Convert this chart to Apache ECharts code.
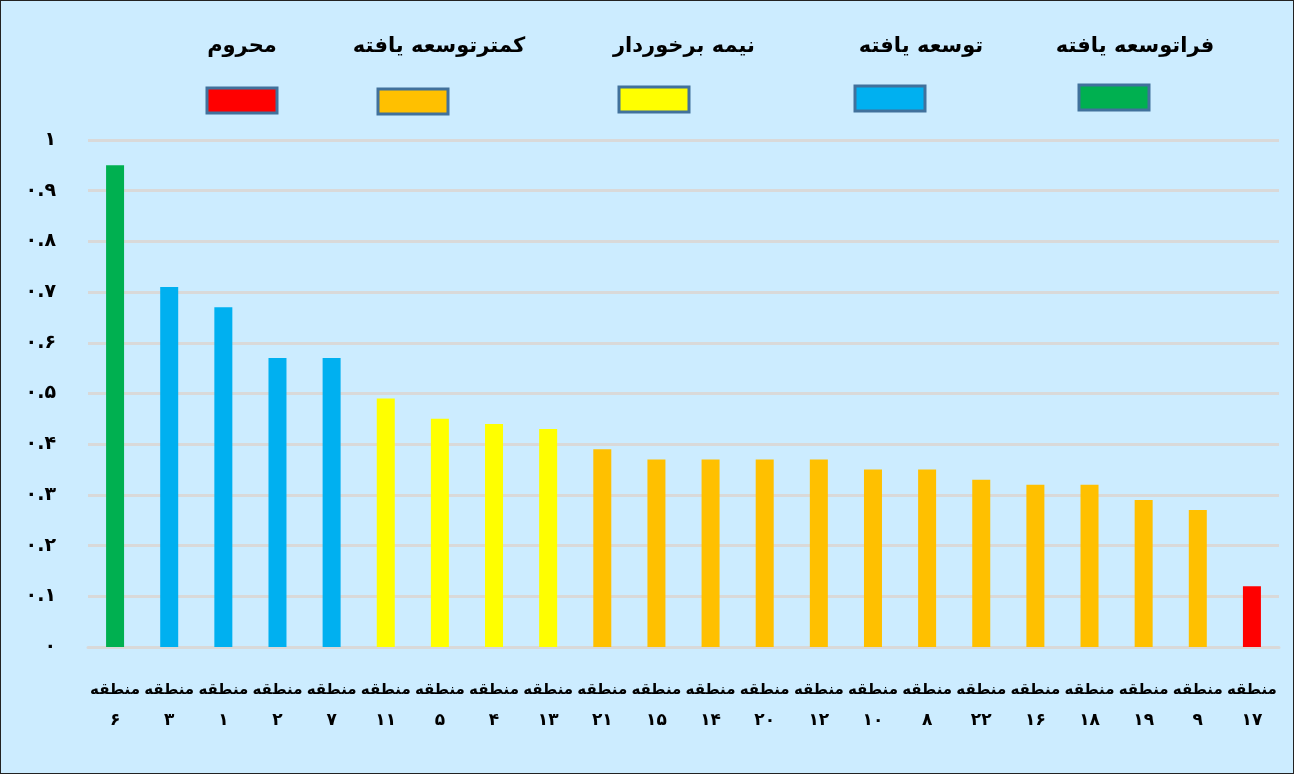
<!DOCTYPE html>
<html>
<head>
<meta charset="utf-8">
<script src="https://cdn.jsdelivr.net/npm/echarts@6/dist/echarts.min.js"></script>
<style>
html,body{margin:0;padding:0;background:#CCECFF;}
#c{width:1294px;height:774px;box-sizing:border-box;border:1px solid #222;}
</style>
</head>
<body>
<div id="c"></div>
<script>
// Data
const regions = [6, 3, 1, 2, 7, 11, 5, 4, 13, 21, 15, 14, 20, 12, 10, 8, 22, 16, 18, 19, 9, 17];
const values  = [0.95, 0.71, 0.67, 0.57, 0.57, 0.49, 0.45, 0.44, 0.43, 0.39, 0.37, 0.37, 0.37, 0.37, 0.35, 0.35, 0.33, 0.32, 0.32, 0.29, 0.27, 0.12];
const groups  = [0, 1, 1, 1, 1, 2, 2, 2, 2, 3, 3, 3, 3, 3, 3, 3, 3, 3, 3, 3, 3, 4];
const groupNames  = ['فراتوسعه یافته', 'توسعه یافته', 'نیمه برخوردار', 'کمترتوسعه یافته', 'محروم'];
const groupColors = ['#00B050', '#00B0F0', '#FFFF00', '#FFC000', '#FF0000'];
const yTicks = [0, 0.1, 0.2, 0.3, 0.4, 0.5, 0.6, 0.7, 0.8, 0.9, 1];

const FA = '۰۱۲۳۴۵۶۷۸۹';
const toFa = s => String(s).replace(/[0-9]/g, d => FA[+d]);
const FONT = '"DejaVu Sans", "Liberation Sans", sans-serif';

const categories = regions.map(r => 'منطقه\n' + toFa(r));

// legend layout (graphic), positions only
const legendTextX = [1134, 920, 683, 438, 241];
const legendBoxX = [1113, 889, 653, 412, 241];
const legendBoxY = [84, 85, 86, 88, 87];
const graphics = [];
groupNames.forEach((n, i) => {
  graphics.push({
    type: 'text', x: legendTextX[i], y: 35,
    style: { text: n, font: 'bold 21px ' + FONT, fill: '#000', align: 'center', verticalAlign: 'top' }
  });
  graphics.push({
    type: 'rect', shape: { x: legendBoxX[i] - 35, y: legendBoxY[i], width: 70, height: 25 },
    style: { fill: groupColors[i], stroke: '#41719C', lineWidth: 3 }
  });
});

const chart = echarts.init(document.getElementById('c'));
chart.setOption({
  backgroundColor: '#CCECFF',
  animation: false,
  grid: { left: 87, right: 14, top: 139, bottom: 126, containLabel: false },
  xAxis: {
    type: 'category', data: categories,
    axisLine: { show: true, lineStyle: { color: '#D9D9D9', width: 3 } },
    axisTick: { show: false },
    axisLabel: {
      interval: 0, margin: 27, color: '#000', fontWeight: 'bold', fontSize: 15, fontFamily: FONT, lineHeight: 32,
      formatter: v => { const p = v.split('\n'); return '{a|' + p[0] + '}\n{b|' + p[1] + '}'; },
      rich: {
        a: { fontSize: 15, fontWeight: 'bold', fontFamily: FONT, color: '#000', lineHeight: 32 },
        b: { fontSize: 17, fontWeight: 'bold', fontFamily: FONT, color: '#000', lineHeight: 30 }
      }
    }
  },
  yAxis: {
    type: 'value', min: 0, max: 1, interval: 0.1,
    axisLine: { show: false }, axisTick: { show: false },
    splitLine: { lineStyle: { color: '#D9D9D9', width: 3 } },
    axisLabel: {
      margin: 32, color: '#000', fontWeight: 'bold', fontSize: 19, fontFamily: FONT,
      formatter: v => {
        const t = yTicks.find(x => Math.abs(x - v) < 1e-6);
        const val = t === undefined ? v : t;
        return toFa(val === 0 ? '0' : val === 1 ? '1' : val.toFixed(1));
      }
    }
  },
  series: [{
    type: 'bar', barWidth: 18,
    data: values.map((v, i) => ({ value: v, itemStyle: { color: groupColors[groups[i]] } }))
  }],
  graphic: graphics
});
</script>
</body>
</html>
